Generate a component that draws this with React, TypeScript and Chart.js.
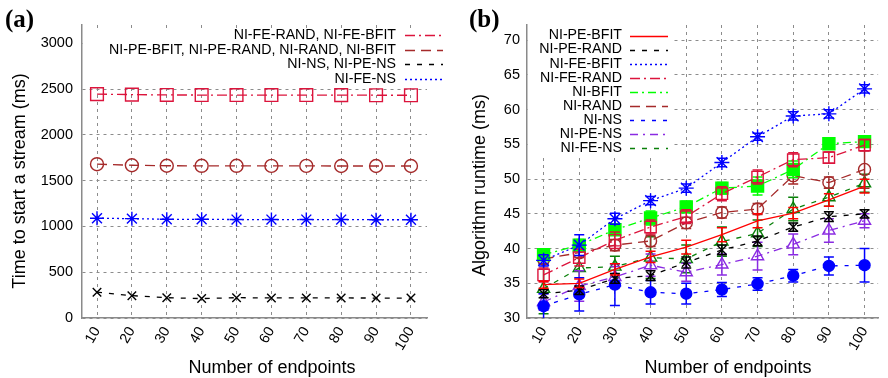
import React, { useEffect, useRef } from "react";
import { Chart, registerables } from "chart.js";

Chart.register(...registerables);

// ---------- data ----------
const endpoints = [10, 20, 30, 40, 50, 60, 70, 80, 90, 100];

// Panel (a): time to start a stream (ms)
const aYTicks = [0, 500, 1000, 1500, 2000, 2500, 3000];
const aLabels = [
  "NI-FE-RAND, NI-FE-BFIT",
  "NI-PE-BFIT, NI-PE-RAND, NI-RAND, NI-BFIT",
  "NI-NS, NI-PE-NS",
  "NI-FE-NS",
];
const aFeRandFeBfit = [2445, 2440, 2436, 2435, 2435, 2435, 2435, 2434, 2433, 2433];
const aPeBfitPeRandRandBfit = [1680, 1668, 1663, 1662, 1662, 1661, 1661, 1660, 1660, 1660];
const aNsPeNs = [282, 244, 222, 212, 222, 219, 219, 219, 218, 218];
const aFeNs = [1090, 1085, 1078, 1078, 1075, 1075, 1075, 1075, 1073, 1073];

// Panel (b): algorithm runtime (ms), mean and error half-width
const bYTicks = [30, 35, 40, 45, 50, 55, 60, 65, 70];
const bLabels = [
  "NI-PE-BFIT",
  "NI-PE-RAND",
  "NI-FE-BFIT",
  "NI-FE-RAND",
  "NI-BFIT",
  "NI-RAND",
  "NI-NS",
  "NI-PE-NS",
  "NI-FE-NS",
];
const bPeBfit = [34.8, 35.0, 37.0, 38.8, 40.2, 42.0, 44.0, 45.1, 47.0, 49.0];
const bPeBfitErr = [0.5, 0.6, 0.8, 0.8, 1.0, 1.0, 1.0, 0.8, 0.9, 1.0];
const bPeRand = [33.5, 34.0, 35.7, 36.1, 38.0, 39.8, 41.1, 43.1, 44.6, 45.0];
const bPeRandErr = [0.6, 0.6, 0.7, 0.7, 0.8, 0.7, 0.7, 0.6, 0.7, 0.6];
const bFeBfit = [38.3, 40.5, 44.3, 46.9, 48.7, 52.4, 56.1, 59.1, 59.4, 63.0];
const bFeBfitErr = [0.8, 1.5, 0.8, 0.6, 0.6, 0.6, 0.5, 0.6, 0.6, 0.6];
const bFeRand = [36.2, 38.7, 41.2, 43.1, 44.6, 47.9, 50.3, 52.8, 53.1, 54.9];
const bFeRandErr = [1.0, 1.2, 1.2, 1.0, 1.0, 1.0, 1.0, 1.0, 0.8, 0.8];
const bBfit = [39.1, 40.5, 42.7, 44.4, 46.0, 48.7, 49.0, 51.4, 55.1, 55.4];
const bBfitErr = [0.6, 0.8, 0.7, 1.0, 0.8, 0.8, 1.3, 1.2, 0.6, 0.6];
const bRand = [38.5, 39.4, 40.5, 41.1, 43.7, 45.2, 45.7, 50.5, 49.5, 51.4];
const bRandErr = [0.7, 0.7, 0.8, 0.8, 0.8, 0.8, 0.8, 1.2, 0.8, 2.7];
const bNs = [31.7, 33.4, 34.8, 33.7, 33.5, 34.1, 34.9, 36.1, 37.5, 37.6];
const bNsErr = [1.8, 2.4, 3.0, 1.7, 1.5, 1.0, 0.9, 0.9, 1.3, 2.4];
const bPeNs = [32.3, 34.6, 35.9, 37.6, 36.6, 37.7, 38.9, 40.6, 42.6, 44.0];
const bPeNsErr = [1.2, 2.2, 1.5, 1.6, 1.3, 1.5, 2.0, 1.5, 1.7, 1.0];
const bFeNs = [34.2, 37.2, 37.4, 38.7, 38.5, 41.0, 42.2, 45.7, 47.4, 49.4];
const bFeNsErr = [3.6, 3.3, 1.5, 3.0, 2.0, 2.1, 1.9, 1.7, 1.3, 1.3];

// ---------- styles ----------
const SANS = '"Liberation Sans", Arial, sans-serif';
const GRID = "#8c8c8c";
const AXIS = "#8a8a8a";

type Style = {
  color: string;
  dash: number[];
  point: string | false;
  radius: number;
  filled: boolean;
};

const aStyles: Style[] = [
  { color: "#dc143c", dash: [10, 4, 2, 4], point: "rect", radius: 9, filled: false },
  { color: "#a52a2a", dash: [10, 6], point: "circle", radius: 6.5, filled: false },
  { color: "#000000", dash: [5, 7], point: "crossRot", radius: 6, filled: false },
  { color: "#0000ff", dash: [2, 3], point: "star", radius: 7, filled: false },
];
const aValues = [aFeRandFeBfit, aPeBfitPeRandRandBfit, aNsPeNs, aFeNs];

const bStyles: Style[] = [
  { color: "#ff0000", dash: [], point: false, radius: 0, filled: false },
  { color: "#000000", dash: [5, 7], point: "crossRot", radius: 6, filled: false },
  { color: "#0000ff", dash: [2, 3], point: "star", radius: 7.5, filled: false },
  { color: "#dc143c", dash: [10, 4, 2, 4], point: "rect", radius: 8, filled: false },
  { color: "#00ff00", dash: [8, 4, 2, 4], point: "rect", radius: 8.5, filled: true },
  { color: "#a52a2a", dash: [10, 6], point: "circle", radius: 6, filled: false },
  { color: "#0000ff", dash: [4, 7], point: "circle", radius: 5.5, filled: true },
  { color: "#8a2be2", dash: [8, 5, 2, 5], point: "triangle", radius: 7, filled: false },
  { color: "#0a800a", dash: [5, 7], point: "triangle", radius: 7, filled: false },
];
const bValues = [bPeBfit, bPeRand, bFeBfit, bFeRand, bBfit, bRand, bNs, bPeNs, bFeNs];
const bErrors = [bPeBfitErr, bPeRandErr, bFeBfitErr, bFeRandErr, bBfitErr, bRandErr, bNsErr, bPeNsErr, bFeNsErr];

// ---------- plugins ----------
type KeyCfg = {
  box: { x1: number; y1: number; x2: number; y2: number };
  textRight: number;
  sx1: number;
  sx2: number;
  rowY: number;
  rowStep: number;
};

function keyPlugin(cfg: KeyCfg) {
  return {
    id: "keyBox",
    beforeDatasetsDraw(chart: any) {
      const ctx = chart.ctx;
      ctx.save();
      ctx.fillStyle = "#ffffff";
      ctx.fillRect(cfg.box.x1, cfg.box.y1, cfg.box.x2 - cfg.box.x1, cfg.box.y2 - cfg.box.y1);
      ctx.font = `14.2px ${SANS}`;
      ctx.textAlign = "right";
      ctx.textBaseline = "middle";
      chart.data.datasets.forEach((ds: any, i: number) => {
        const y = cfg.rowY + i * cfg.rowStep;
        ctx.fillStyle = "#000";
        ctx.fillText(ds.label, cfg.textRight, y);
        ctx.strokeStyle = ds.borderColor;
        ctx.lineWidth = 1.4;
        ctx.setLineDash(ds.borderDash || []);
        ctx.beginPath();
        ctx.moveTo(cfg.sx1, Math.round(y) + 0.5);
        ctx.lineTo(cfg.sx2, Math.round(y) + 0.5);
        ctx.stroke();
      });
      ctx.restore();
    },
  };
}

type TitleCfg = {
  panel: string;
  panelX: number;
  panelY: number;
  xTitle: string;
  xTitleX: number;
  xTitleY: number;
  yTitle: string;
  yTitleX: number;
  yTitleY: number;
};

function titlePlugin(cfg: TitleCfg) {
  return {
    id: "titles",
    afterDraw(chart: any) {
      const ctx = chart.ctx;
      ctx.save();
      ctx.fillStyle = "#000";
      ctx.textBaseline = "alphabetic";
      ctx.font = 'bold 25px "Liberation Serif", "Times New Roman", serif';
      ctx.textAlign = "left";
      ctx.fillText(cfg.panel, cfg.panelX, cfg.panelY);
      ctx.font = `18px ${SANS}`;
      ctx.textAlign = "center";
      ctx.fillText(cfg.xTitle, cfg.xTitleX, cfg.xTitleY);
      ctx.translate(cfg.yTitleX, cfg.yTitleY);
      ctx.rotate(-Math.PI / 2);
      ctx.fillText(cfg.yTitle, 0, 0);
      ctx.restore();
    },
  };
}

const errorBarPlugin = {
  id: "errorBars",
  afterDatasetDraw(chart: any, args: any) {
    const ds: any = chart.data.datasets[args.index];
    if (!ds.errors) return;
    const ctx = chart.ctx;
    const ys = chart.scales.y;
    const area = chart.chartArea;
    ctx.save();
    ctx.beginPath();
    ctx.rect(area.left, area.top, area.right - area.left, area.bottom - area.top);
    ctx.clip();
    ctx.strokeStyle = ds.borderColor;
    ctx.lineWidth = 1.5;
    ctx.setLineDash([]);
    args.meta.data.forEach((el: any, i: number) => {
      const v = ds.data[i].y;
      const e = ds.errors[i];
      const x = el.x;
      const y1 = ys.getPixelForValue(v - e);
      const y2 = ys.getPixelForValue(v + e);
      ctx.beginPath();
      ctx.moveTo(x, y1);
      ctx.lineTo(x, y2);
      ctx.moveTo(x - 5, y1);
      ctx.lineTo(x + 5, y1);
      ctx.moveTo(x - 5, y2);
      ctx.lineTo(x + 5, y2);
      ctx.stroke();
    });
    ctx.restore();
  },
};

// ---------- config builders ----------
function makeDataset(label: string, values: number[], st: Style, errors?: number[]) {
  return {
    label,
    data: values.map((v, i) => ({ x: endpoints[i], y: v })),
    errors,
    borderColor: st.color,
    backgroundColor: st.color,
    borderWidth: 1.3,
    borderDash: st.dash,
    pointStyle: st.point,
    pointRadius: st.radius,
    pointBorderWidth: 1.4,
    pointBorderColor: st.color,
    pointBackgroundColor: st.filled ? st.color : "rgba(0,0,0,0)",
    fill: false,
    tension: 0,
  };
}

function makeScales(xMin: number, xMax: number, yMin: number, yMax: number, yTicks: number[], yWidth: number, yPad: number) {
  return {
    x: {
      type: "linear",
      min: xMin,
      max: xMax,
      afterBuildTicks: (s: any) => {
        s.ticks = endpoints.map((v) => ({ value: v }));
      },
      afterFit: (s: any) => {
        s.height = 60;
      },
      grid: { color: GRID, lineWidth: 1, drawTicks: false },
      border: { display: true, color: AXIS, width: 1.5, dash: [3, 4] },
      ticks: {
        autoSkip: false,
        minRotation: 60,
        maxRotation: 60,
        padding: 6,
        color: "#000",
        font: { family: SANS, size: 14.5 },
        callback: (v: any) => String(v),
      },
    },
    y: {
      type: "linear",
      min: yMin,
      max: yMax,
      afterBuildTicks: (s: any) => {
        s.ticks = yTicks.map((v) => ({ value: v }));
      },
      afterFit: (s: any) => {
        s.width = yWidth;
      },
      grid: { color: GRID, lineWidth: 1, drawTicks: false },
      border: { display: true, color: AXIS, width: 1.5, dash: [3, 4] },
      ticks: {
        padding: yPad,
        color: "#000",
        font: { family: SANS, size: 14.5 },
        callback: (v: any) => String(v),
      },
    },
  };
}

function makeA(): any {
  return {
    type: "line",
    data: {
      datasets: aLabels.map((l, i) => makeDataset(l, aValues[i], aStyles[i])),
    },
    options: {
      animation: false,
      responsive: false,
      devicePixelRatio: 1,
      events: [],
      layout: { padding: { top: 25, right: 17, left: 0, bottom: 0 } },
      plugins: { legend: { display: false }, tooltip: { enabled: false } },
      scales: makeScales(5.7, 104.6, 0, 3200, aYTicks, 82, 9),
    },
    plugins: [
      keyPlugin({ box: { x1: 83, y1: 28, x2: 444, y2: 87 }, textRight: 396, sx1: 405, sx2: 443, rowY: 35, rowStep: 14.6 }),
      titlePlugin({
        panel: "(a)",
        panelX: 5,
        panelY: 27,
        xTitle: "Number of endpoints",
        xTitleX: 272,
        xTitleY: 373,
        yTitle: "Time to start a stream (ms)",
        yTitleX: 25,
        yTitleY: 181,
      }),
    ],
  };
}

function makeB(): any {
  return {
    type: "line",
    data: {
      datasets: bLabels.map((l, i) => makeDataset(l, bValues[i], bStyles[i], bErrors[i])),
    },
    options: {
      animation: false,
      responsive: false,
      devicePixelRatio: 1,
      events: [],
      layout: { padding: { top: 25, right: 1, left: 0, bottom: 0 } },
      plugins: { legend: { display: false }, tooltip: { enabled: false } },
      scales: makeScales(5.35, 103.8, 30, 72.2, bYTicks, 83, 7),
    },
    plugins: [
      errorBarPlugin,
      keyPlugin({ box: { x1: 84, y1: 25, x2: 228, y2: 157 }, textRight: 178, sx1: 186, sx2: 224, rowY: 35.5, rowStep: 14.05 }),
      titlePlugin({
        panel: "(b)",
        panelX: 25,
        panelY: 27,
        xTitle: "Number of endpoints",
        xTitleX: 284,
        xTitleY: 373,
        yTitle: "Algorithm runtime (ms)",
        yTitleX: 41,
        yTitleY: 185,
      }),
    ],
  };
}

function Panel({ build }: { build: () => any }) {
  const ref = useRef<HTMLCanvasElement>(null);
  useEffect(() => {
    const chart = new Chart(ref.current as HTMLCanvasElement, build());
    return () => chart.destroy();
  }, [build]);
  return <canvas ref={ref} width={444} height={378} style={{ display: "block", width: 444, height: 378 }} />;
}

export default function App() {
  return (
    <div
      style={{
        position: "absolute",
        left: 0,
        top: 0,
        width: 888,
        height: 378,
        display: "flex",
        background: "#fff",
      }}
    >
      <Panel build={makeA} />
      <Panel build={makeB} />
    </div>
  );
}
